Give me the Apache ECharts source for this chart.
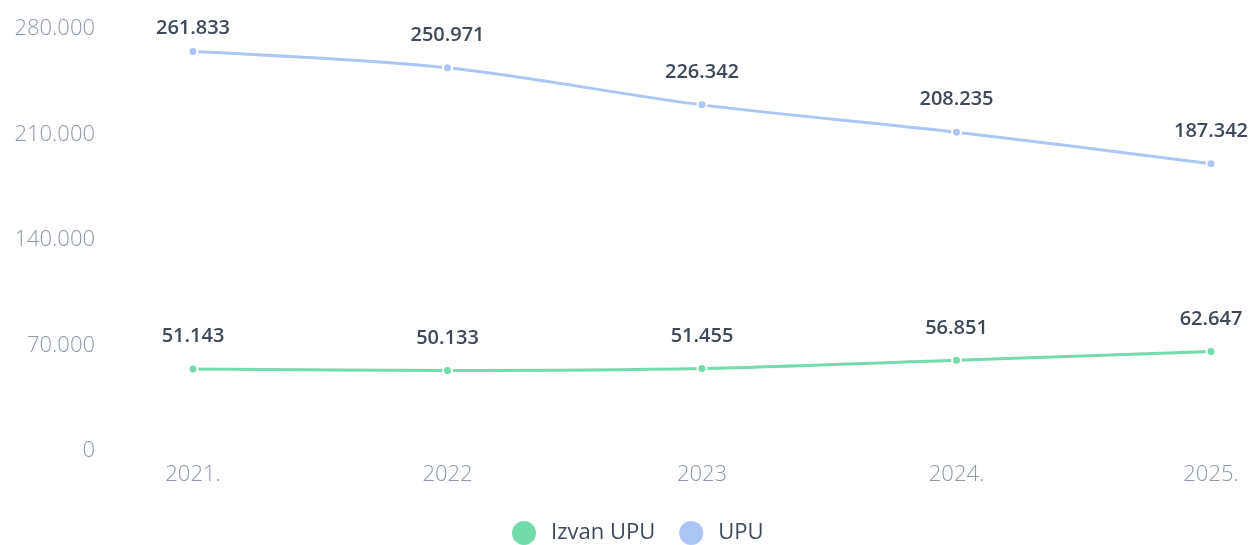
<!DOCTYPE html>
<html>
<head>
<meta charset="utf-8">
<script src="https://cdn.jsdelivr.net/npm/echarts@6/dist/echarts.min.js"></script>
<style>
  html, body { margin: 0; padding: 0; background: #ffffff; }
  #chart { width: 1260px; height: 545px; }
</style>
</head>
<body>
<div id="chart"></div>
<script>
// Years on the x axis
const years = ['2021.', '2022', '2023', '2024.', '2025.'];
// Series values
const izvanUpu = [51143, 50133, 51455, 56851, 62647];
const upu = [261833, 250971, 226342, 208235, 187342];
const seriesNames = ['Izvan UPU', 'UPU'];

// Thousands separated by a dot, e.g. 261.833
function fmt(v) {
  return String(Math.round(v)).replace(/\B(?=(\d{3})+(?!\d))/g, '.');
}

const GREEN = '#72dcad';
const BLUE = '#abc5f5';

const chart = echarts.init(document.getElementById('chart'), null, { renderer: 'canvas' });

function lineSeries(name, values, color) {
  // keep the label of a point near the top edge closer to its dot
  const data = values.map(v => (v > 255000 ? { value: v, label: { distance: 8 } } : v));
  return {
    name: name,
    type: 'line',
    data: data,
    smooth: 0.3,
    symbol: 'circle',
    symbolSize: 9,
    lineStyle: { color: color, width: 3 },
    itemStyle: { color: color, borderColor: '#ffffff', borderWidth: 2 },
    label: {
      show: true,
      position: 'top',
      distance: 17,
      formatter: p => fmt(p.value),
      fontFamily: 'Open Sans',
      fontWeight: 600,
      fontSize: 20,
      color: '#3e4959'
    }
  };
}

chart.setOption({
  animation: false,
  color: [GREEN, BLUE],
  grid: { left: 193, right: 49, top: 24, bottom: 99, containLabel: false },
  legend: {
    top: 514,
    left: 505,
    icon: 'circle',
    itemWidth: 26,
    itemHeight: 26,
    itemGap: 22,
    textStyle: {
      fontFamily: 'Open Sans',
      fontWeight: 500,
      fontSize: 22,
      color: '#3e4959',
      padding: [0, 0, 0, 9]
    },
    data: seriesNames
  },
  xAxis: {
    type: 'category',
    data: years,
    boundaryGap: false,
    axisLine: { show: false },
    axisTick: { show: false },
    axisLabel: {
      margin: 18,
      fontFamily: 'Open Sans',
      fontWeight: 300,
      fontSize: 22,
      color: '#8d98a6'
    }
  },
  yAxis: {
    type: 'value',
    min: 0,
    max: 280000,
    interval: 70000,
    splitLine: { show: false },
    axisLine: { show: false },
    axisTick: { show: false },
    axisLabel: {
      margin: 98,
      verticalAlign: 'top',
      lineHeight: 10,
      fontFamily: 'Open Sans',
      fontWeight: 300,
      fontSize: 22,
      color: '#8d98a6',
      formatter: v => fmt(v)
    }
  },
  series: [
    lineSeries(seriesNames[0], izvanUpu, GREEN),
    lineSeries(seriesNames[1], upu, BLUE)
  ]
});
</script>
</body>
</html>
